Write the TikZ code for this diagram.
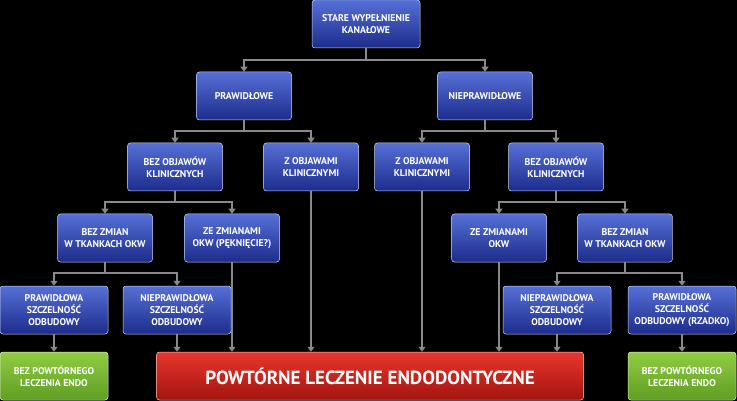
\documentclass[tikz,border=0pt]{standalone}
\usepackage{fontspec}
\setmainfont{PT Sans}
\usetikzlibrary{arrows.meta,calc}
\definecolor{bt}{HTML}{5670D6}
\definecolor{bb}{HTML}{1C2C8C}
\definecolor{gt}{HTML}{92CC44}
\definecolor{gb}{HTML}{5E9E22}
\definecolor{rt}{HTML}{E8372C}
\definecolor{rb}{HTML}{A3140F}
\definecolor{ln}{HTML}{8A8A8A}
\tikzset{
 box/.style={rounded corners=3pt,draw=white!70!bt,line width=0.5pt,top color=bt,bottom color=bb,
   text=white,font=\bfseries\fontsize{9.8}{12}\selectfont,align=center,inner sep=0pt,
   minimum width=95pt,minimum height=48pt},
 wbox/.style={box,minimum width=108pt},
 gbox/.style={box,minimum width=108pt,top color=gt,bottom color=gb,draw=white!70!gt},
 rbox/.style={box,minimum width=427pt,top color=rt,bottom color=rb,draw=white!70!rt,font=\bfseries\fontsize{19}{21}\selectfont},
 ln/.style={draw=ln,line width=2pt,-{Triangle[width=7pt,length=5pt]}},
}
\begin{document}
\begin{tikzpicture}[x=1pt,y=-1pt]
\fill[black] (0,0) rectangle (737,401);
\useasboundingbox (0,0) rectangle (737,401);
\node[wbox] (top) at (366,24) {STARE WYPEŁNIENIE\\KANAŁOWE};
\node[box] (pl) at (244,96) {PRAWIDŁOWE};
\node[box] (pr) at (485,96) {NIEPRAWIDŁOWE};
\node[box] (bol) at (175,167) {BEZ OBJAWÓW\\KLINICZNYCH};
\node[box] (zol) at (311,167) {Z OBJAWAMI\\KLINICZNYMI};
\node[box] (zor) at (422,167) {Z OBJAWAMI\\KLINICZNYMI};
\node[box] (bor) at (556,167) {BEZ OBJAWÓW\\KLINICZNYCH};
\node[box] (bzl) at (105,238) {BEZ ZMIAN\\W TKANKACH OKW};
\node[box] (zzl) at (232,238) {ZE ZMIANAMI\\OKW (PĘKNIĘCIE?)};
\node[box] (zzr) at (499,238) {ZE ZMIANAMI\\OKW};
\node[box] (bzr) at (625,238) {BEZ ZMIAN\\W TKANKACH OKW};
\node[wbox] (psl) at (54,310) {PRAWIDŁOWA\\SZCZELNOŚĆ\\ODBUDOWY};
\node[wbox] (nsl) at (177,310) {NIEPRAWIDŁOWA\\SZCZELNOŚĆ\\ODBUDOWY};
\node[wbox] (nsr) at (557,310) {NIEPRAWIDŁOWA\\SZCZELNOŚĆ\\ODBUDOWY};
\node[wbox] (psr) at (682,310) {PRAWIDŁOWA\\SZCZELNOŚĆ\\ODBUDOWY (RZADKO)};
\node[gbox] (gl) at (54,376) {BEZ POWTÓRNEGO\\LECZENIA ENDO};
\node[rbox] (red) at (370,376) {POWTÓRNE LECZENIE ENDODONTYCZNE};
\node[gbox] (gr) at (682,376) {BEZ POWTÓRNEGO\\LECZENIA ENDO};
\foreach \p/\a/\b/\h in {top/pl/pr/60, pl/bol/zol/131, pr/zor/bor/131, bol/bzl/zzl/202, bor/zzr/bzr/202, bzl/psl/nsl/273, bzr/nsr/psr/273}{
  \draw[ln] (\p.south) |- (\a.north |- 0,\h) -- (\a.north);
  \draw[ln] (\p.south) |- (\b.north |- 0,\h) -- (\b.north);
}
\draw[ln] (psl) -- (gl);
\draw[ln] (psr) -- (gr);
\draw[ln] (nsl.south) -- (nsl.south |- red.north);
\draw[ln] (nsr.south) -- (nsr.south |- red.north);
\draw[ln] (zzl.south) -- (zzl.south |- red.north);
\draw[ln] (zzr.south) -- (zzr.south |- red.north);
\draw[ln] (zol.south) -- (zol.south |- red.north);
\draw[ln] (zor.south) -- (zor.south |- red.north);
\end{tikzpicture}
\end{document}
